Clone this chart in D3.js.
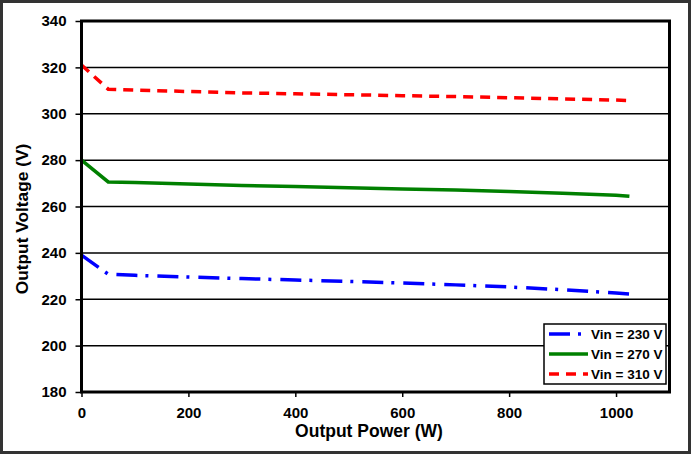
<!DOCTYPE html>
<html><head><meta charset="utf-8">
<script src="https://cdn.jsdelivr.net/npm/d3@7"></script>
<style>body{margin:0;background:#fff}svg{display:block}</style>
</head><body><svg id="c" width="691" height="454"></svg>
<script>
const power = [0, 50, 100, 200, 300, 400, 500, 600, 700, 800, 900, 1000, 1025];
const vin230 = [239, 230.8, 230.3, 229.6, 228.9, 228.3, 227.7, 227.0, 226.2, 225.3, 224.1, 222.7, 222.3];
const vin270 = [280, 270.6, 270.3, 269.7, 269.1, 268.6, 268.1, 267.6, 267.1, 266.5, 265.7, 264.9, 264.4];
const vin310 = [321, 310.6, 310.2, 309.6, 309.0, 308.6, 308.2, 307.8, 307.4, 306.9, 306.4, 305.9, 305.7];
const seriesNames = ["Vin = 230 V", "Vin = 270 V", "Vin = 310 V"];
const xTicks = [0, 200, 400, 600, 800, 1000];
const yTicks = [180, 200, 220, 240, 260, 280, 300, 320, 340];

const svg = d3.select("#c");
const W = 691, H = 454;
const m = {l: 81.5, r: 669.5, t: 21, b: 392};
const font = "'Liberation Sans', Arial, sans-serif";

svg.append("rect").attr("x", 1.5).attr("y", 1.5).attr("width", W - 3).attr("height", H - 3)
  .attr("fill", "#fff").attr("stroke", "#333").attr("stroke-width", 3);

const x = d3.scaleLinear().domain([0, 1100]).range([m.l, m.r]);
const y = d3.scaleLinear().domain([180, 340]).range([m.b, m.t]);

// gridlines
svg.append("g").selectAll("line").data(yTicks.slice(1, -1)).join("line")
  .attr("x1", m.l).attr("x2", m.r).attr("y1", d => y(d)).attr("y2", d => y(d))
  .attr("stroke", "#000").attr("stroke-width", 1.5);

// axes
const yAxis = svg.append("g").attr("transform", `translate(${m.l},0)`)
  .call(d3.axisLeft(y).tickValues(yTicks).tickFormat(d3.format("d")).tickSize(6).tickPadding(9));
const xAxis = svg.append("g").attr("transform", `translate(0,${m.b})`)
  .call(d3.axisBottom(x).tickValues(xTicks).tickFormat(d3.format("d")).tickSize(5).tickPadding(10));
[yAxis, xAxis].forEach(a => {
  a.select(".domain").remove();
  a.selectAll("line").attr("stroke", "#000").attr("stroke-width", 1.5);
  a.selectAll("text").attr("font-family", font).attr("font-weight", "bold")
    .attr("font-size", 15).attr("fill", "#000");
});

// lines
const series = [
  {vals: vin230, color: "#0000ff", dash: "21,8,3,9"},
  {vals: vin270, color: "#008000", dash: null},
  {vals: vin310, color: "#ff0000", dash: "10,7"}
];
const line = d3.line().x(d => x(d[0])).y(d => y(d[1]));
series.forEach(s => {
  svg.append("path").datum(power.map((p, i) => [p, s.vals[i]]))
    .attr("d", line).attr("fill", "none").attr("stroke", s.color)
    .attr("stroke-width", 3.5).attr("stroke-dasharray", s.dash);
});

// plot frame
svg.append("rect").attr("x", m.l).attr("y", m.t).attr("width", m.r - m.l).attr("height", m.b - m.t)
  .attr("fill", "none").attr("stroke", "#000").attr("stroke-width", 3);

// legend
const lg = svg.append("g");
lg.append("rect").attr("x", 544).attr("y", 324).attr("width", 122).attr("height", 60)
  .attr("fill", "#fff").attr("stroke", "#000").attr("stroke-width", 1.5);
series.forEach((s, i) => {
  const ly = 334 + i * 20;
  lg.append("line").attr("x1", 549).attr("x2", 588).attr("y1", ly).attr("y2", ly)
    .attr("stroke", s.color).attr("stroke-width", 3.5).attr("stroke-dasharray", s.dash);
  lg.append("text").attr("x", 591).attr("y", ly + 5).text(seriesNames[i])
    .attr("font-family", font).attr("font-weight", "bold").attr("font-size", 13.5).attr("fill", "#000");
});

// axis titles
svg.append("text").attr("x", 369).attr("y", 436.5).attr("text-anchor", "middle")
  .attr("font-family", font).attr("font-weight", "bold").attr("font-size", 17.5).text("Output Power (W)");
svg.append("text").attr("transform", `translate(28,219) rotate(-90)`).attr("text-anchor", "middle")
  .attr("font-family", font).attr("font-weight", "bold").attr("font-size", 17.3).text("Output Voltage (V)");
</script></body></html>
